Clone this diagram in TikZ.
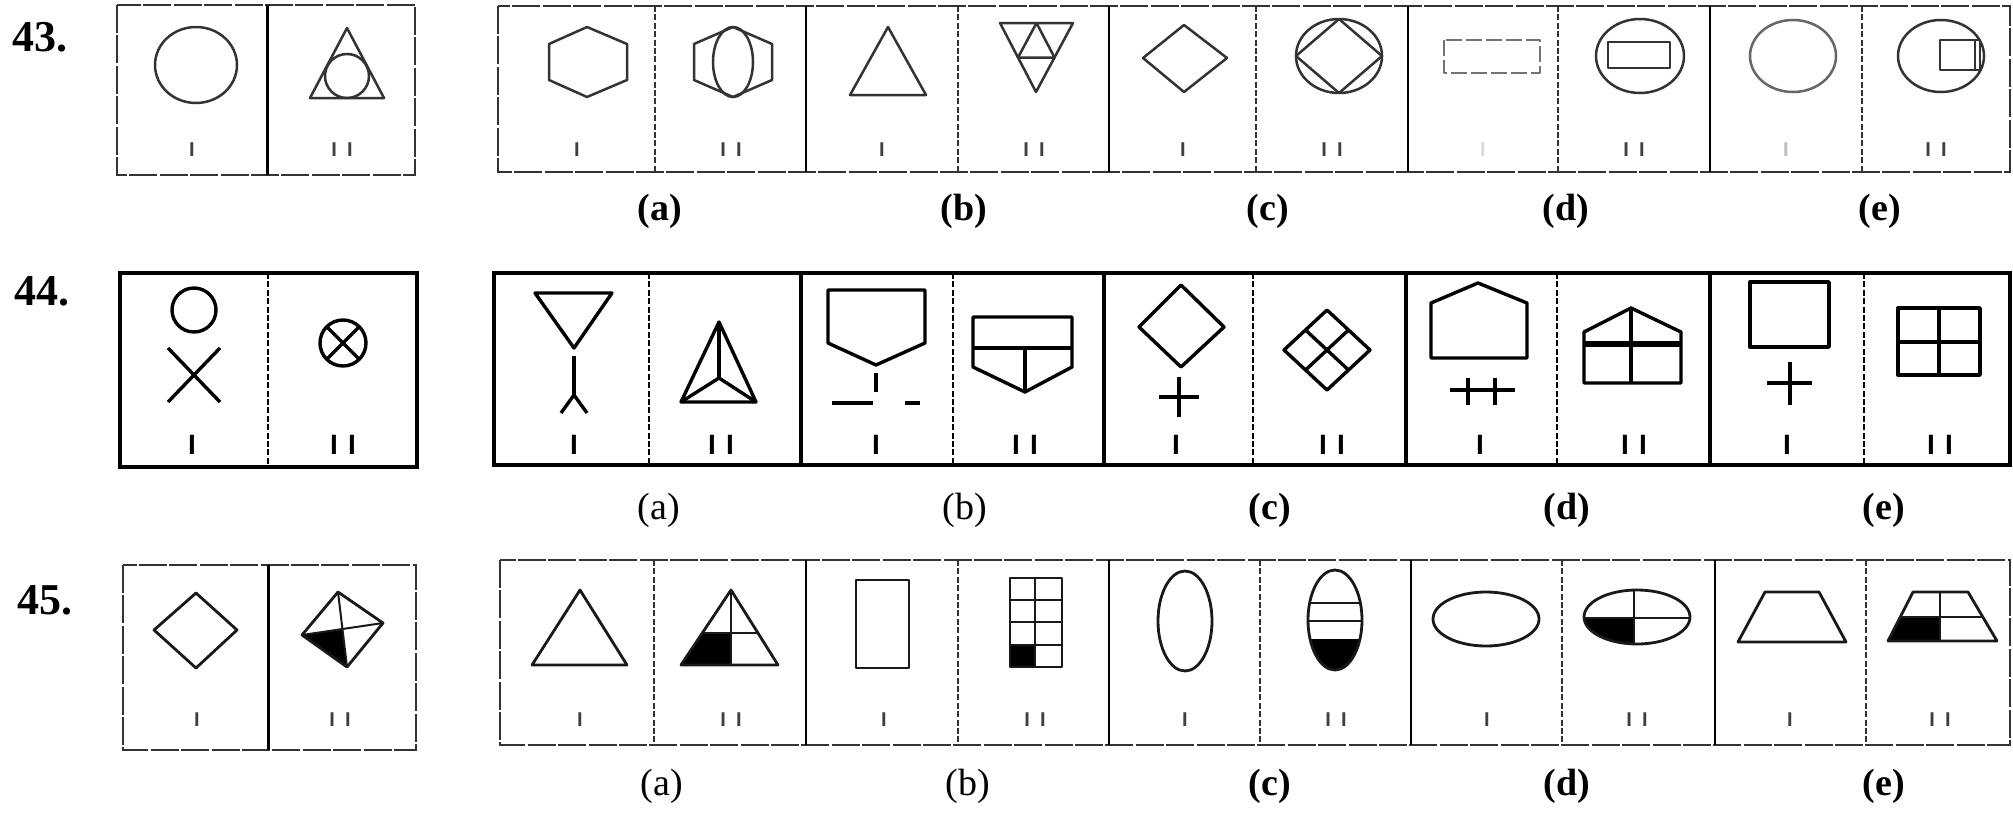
\documentclass[tikz,border=0pt]{standalone}
\usepackage{fontspec}
\setmainfont{Liberation Serif}
\newfontfamily\lblsans{Liberation Sans}
\newcommand{\romI}{I}
\newcommand{\romII}{I\kern5pt I}
\begin{document}
\begin{tikzpicture}[x=0.5pt,y=-0.5pt,
  frameA/.style={line width=1.3pt, draw=black!80, dash pattern=on 14pt off 1.2pt},
  frameB/.style={line width=1.7pt, draw=black},
  innerA/.style={line width=1.1pt, draw=black!80, dash pattern=on 3pt off 1.2pt},
  innerB/.style={line width=1.2pt, draw=black, dash pattern=on 3pt off 1.2pt},
  shpA/.style={line width=1.25pt, draw=black!80, line join=round},
  shpB/.style={line width=1.7pt, draw=black, line join=round},
  shpC/.style={line width=1.4pt, draw=black!90, line join=round},
  numlbl/.style={font=\fontsize{22}{26}\selectfont\bfseries, inner sep=0},
  optlbl/.style={font=\fontsize{19}{22}\selectfont, inner sep=0},
  optlblb/.style={font=\fontsize{19}{22}\selectfont\bfseries, inner sep=0},
  romsmall/.style={font=\lblsans\bfseries\fontsize{10}{11}\selectfont, text=black!75, inner sep=0},
  rombig/.style={font=\lblsans\bfseries\fontsize{14}{16}\selectfont, inner sep=0}
]
\useasboundingbox (0,0) rectangle (2013,814);
\fill[white] (0,0) rectangle (2013,814);

%================ Row 43 ================
\node[numlbl] (q43) at (40,37) {43.};
\draw[frameA] (117,5) rectangle (415,175);
\draw[frameB, line width=1.5pt] (267,5) -- (267,175);
\draw[frameA] (498,6) rectangle (2010,172);
\foreach \x in {655,958,1256,1558,1862} \draw[innerA] (\x,6) -- (\x,172);
\foreach \x in {806,1109,1408,1710} \draw[frameB, line width=1.4pt] (\x,6) -- (\x,172);
% question figures
\draw[shpA] (196,65) ellipse [x radius=41, y radius=38];
\draw[shpA] (347,28) -- (384,98) -- (310,98) -- cycle;
\draw[shpA] (347,76) circle (22);
% (a)
\draw[shpA] (587,27) -- (627,44) -- (627,80) -- (587,97) -- (549,80) -- (549,44) -- cycle;
\draw[shpA] (733,27) -- (772,44) -- (772,80) -- (733,97) -- (694,80) -- (694,44) -- cycle;
\draw[shpA] (733,62) ellipse [x radius=20, y radius=35];
% (b)
\draw[shpA] (888,27) -- (926,95) -- (850,95) -- cycle;
\draw[shpA] (1000,23) -- (1073,23) -- (1036,92) -- cycle;
\draw[shpA] (1036.5,23) -- (1018,57.5) -- (1054.5,57.5) -- cycle;
% (c)
\draw[shpA] (1184,25) -- (1227,58) -- (1184,92) -- (1143,58) -- cycle;
\draw[shpA] (1339,56) ellipse [x radius=43, y radius=37];
\draw[shpA] (1339,19) -- (1382,56) -- (1339,93) -- (1296,56) -- cycle;
% (d)
\draw[shpA, draw=black!55, dash pattern=on 8pt off 2pt] (1444,40) rectangle (1540,73);
\draw[shpA] (1640,56) ellipse [x radius=44, y radius=37];
\draw[shpA] (1608,42) rectangle (1670,68);
% (e)
\draw[shpA, draw=black!60] (1793,56) ellipse [x radius=43, y radius=36];
\draw[shpA] (1941,56) ellipse [x radius=43, y radius=36];
\draw[shpA] (1940,40) rectangle (1980,70);
\draw[shpA] (1975,40) -- (1975,70);
% labels
\foreach \x/\t [count=\i] in {192/\romI, 342/\romII, 577/\romI, 731/\romII, 882/\romI, 1034/\romII, 1183/\romI, 1332/\romII, 1634/\romII, 1936/\romII}
  \node[romsmall] (r43-\i) at (\x,150) {\t};
\node[romsmall, text=black!15] (r43-d1) at (1483,150) {\romI};
\node[romsmall, text=black!25] (r43-e1) at (1786,150) {\romI};
\node[optlblb] (o43a) at (660,211) {(a)};
\node[optlblb] (o43b) at (964,211) {(b)};
\node[optlblb] (o43c) at (1268,211) {(c)};
\node[optlblb] (o43d) at (1566,211) {(d)};
\node[optlblb] (o43e) at (1880,211) {(e)};

%================ Row 44 ================
\node[numlbl] (q44) at (42,291) {44.};
\draw[frameB] (120,273) rectangle (417,467);
\draw[innerB] (268,273) -- (268,467);
\draw[frameB] (494,273) rectangle (2010,465);
\foreach \x in {649,953,1253,1557,1864} \draw[innerB] (\x,273) -- (\x,465);
\foreach \x in {801,1104,1406,1710} \draw[frameB] (\x,273) -- (\x,465);
% question figures
\draw[shpB] (194,310) circle (22);
\draw[shpB] (168,348) -- (220,402);
\draw[shpB] (168,402) -- (220,348);
\draw[shpB] (343,343) circle (23);
\draw[shpB] (327,327) -- (359,359);
\draw[shpB] (327,359) -- (359,327);
% (a)
\draw[shpB] (535,293) -- (612,293) -- (574,348) -- cycle;
\draw[shpB] (574,356) -- (574,395);
\draw[shpB] (561,413) -- (574,395) -- (587,413);
\draw[shpB] (719,322) -- (756,402) -- (681,402) -- cycle;
\draw[shpB] (719,378) -- (719,322);
\draw[shpB] (719,378) -- (681,402);
\draw[shpB] (719,378) -- (756,402);
\fill (719,326) circle (3);
% (b)
\draw[shpB] (828,290) -- (925,290) -- (925,343) -- (876,365) -- (828,343) -- cycle;
\draw[shpB] (876,373) -- (876,392);
\draw[shpB] (832,403) -- (873,403);
\draw[shpB] (905,403) -- (920,403);
\draw[shpB] (973,317) -- (1072,317) -- (1072,367) -- (1025,392) -- (973,367) -- cycle;
\draw[shpB] (973,348) -- (1072,348);
\draw[shpB] (1025,348) -- (1025,392);
% (c)
\draw[shpB] (1181,285) -- (1224,327) -- (1181,367) -- (1139,327) -- cycle;
\draw[shpB] (1179,377) -- (1179,417);
\draw[shpB] (1159,397) -- (1199,397);
\draw[shpB] (1327,310) -- (1370,350) -- (1327,390) -- (1284,350) -- cycle;
\draw[shpB] (1305.5,330) -- (1348.5,370);
\draw[shpB] (1348.5,330) -- (1305.5,370);
% (d)
\draw[shpB] (1478,283) -- (1527,303) -- (1527,358) -- (1431,358) -- (1431,303) -- cycle;
\draw[shpB] (1468,378) -- (1468,405);
\draw[shpB] (1495,378) -- (1495,405);
\draw[shpB] (1450,390) -- (1515,390);
\draw[shpB] (1631,308) -- (1681,332) -- (1681,383) -- (1584,383) -- (1584,332) -- cycle;
\draw[shpB, line width=2.6pt] (1584,344) -- (1681,344);
\draw[shpB] (1631,308) -- (1631,383);
% (e)
\draw[shpB] (1750,282) rectangle (1829,347);
\draw[shpB] (1790,362) -- (1790,405);
\draw[shpB] (1767,383) -- (1812,383);
\draw[shpB] (1898,308) rectangle (1980,375);
\draw[shpB] (1939,308) -- (1939,375);
\draw[shpB] (1898,342) -- (1980,342);
% labels
\foreach \x/\t [count=\i] in {192/\romI, 343/\romII, 574/\romI, 721/\romII, 876/\romI, 1025/\romII, 1176/\romI, 1332/\romII, 1480/\romI, 1634/\romII, 1787/\romI, 1940/\romII}
  \node[rombig] (r44-\i) at (\x,445) {\t};
\node[optlbl] (o44a) at (659,510) {(a)};
\node[optlbl] (o44b) at (965,510) {(b)};
\node[optlblb] (o44c) at (1270,510) {(c)};
\node[optlblb] (o44d) at (1567,510) {(d)};
\node[optlblb] (o44e) at (1884,510) {(e)};

%================ Row 45 ================
\node[numlbl] (q45) at (45,600) {45.};
\draw[frameA] (123,565) rectangle (416,750);
\draw[frameB, line width=1.5pt] (268,565) -- (268,750);
\draw[frameA] (500,560) rectangle (2010,745);
\foreach \x in {654,958,1260,1562,1866} \draw[innerA] (\x,560) -- (\x,745);
\foreach \x in {806,1109,1411,1715} \draw[frameB, line width=1.4pt] (\x,560) -- (\x,745);
% question figures
\draw[shpC] (196,593) -- (237,630) -- (196,668) -- (154,630) -- cycle;
\fill (302,635) -- (342.4,629) -- (347,667) -- cycle;
\draw[shpC] (338,592) -- (383,623) -- (347,667) -- (302,635) -- cycle;
\draw[shpC, line width=1pt] (338,592) -- (347,667);
\draw[shpC, line width=1pt] (302,635) -- (383,623);
% (a)
\draw[shpC] (580,590) -- (627,665) -- (532,665) -- cycle;
\fill (702,633) -- (731,633) -- (731,665) -- (681,665) -- cycle;
\draw[shpC] (731,590) -- (778,665) -- (681,665) -- cycle;
\draw[shpC, line width=1pt] (731,590) -- (731,665);
\draw[shpC, line width=1pt] (702,633) -- (758,633);
% (b)
\draw[shpC] (856,580) rectangle (909,668);
\fill (1010,645) rectangle (1035,667);
\draw[shpC] (1010,578) rectangle (1062,667);
\draw[shpC] (1035,578) -- (1035,667);
\foreach \y in {600,622,645} \draw[shpC] (1010,\y) -- (1062,\y);
% (c)
\draw[shpC] (1185,621) ellipse [x radius=27, y radius=50];
\begin{scope}
  \clip (1335,620) ellipse [x radius=27, y radius=50];
  \fill (1300,639) rectangle (1370,680);
  \draw[shpC] (1300,603) -- (1370,603);
  \draw[shpC] (1300,621) -- (1370,621);
\end{scope}
\draw[shpC] (1335,620) ellipse [x radius=27, y radius=50];
% (d)
\draw[shpC] (1486,619) ellipse [x radius=53, y radius=27];
\begin{scope}
  \clip (1637,617) ellipse [x radius=53, y radius=27];
  \fill (1580,618) rectangle (1634,650);
  \draw[shpC, line width=1pt] (1634,585) -- (1634,650);
  \draw[shpC, line width=1pt] (1580,618) -- (1695,618);
\end{scope}
\draw[shpC] (1637,617) ellipse [x radius=53, y radius=27];
% (e)
\draw[shpC] (1765,592) -- (1819,592) -- (1846,642) -- (1738,642) -- cycle;
\fill (1900.5,617) -- (1940,617) -- (1940,641) -- (1888,641) -- cycle;
\draw[shpC] (1913,592) -- (1968,592) -- (1997,641) -- (1888,641) -- cycle;
\draw[shpC, line width=1pt] (1940,592) -- (1940,641);
\draw[shpC, line width=1pt] (1900.5,617) -- (1982.8,617);
% labels
\foreach \x/\t [count=\i] in {197/\romI, 340/\romII, 580/\romI, 731/\romII, 884/\romI, 1035/\romII, 1185/\romI, 1336/\romII, 1487/\romI, 1637/\romII, 1790/\romI, 1940/\romII}
  \node[romsmall] (r45-\i) at (\x,720) {\t};
\node[optlbl] (o45a) at (662,786) {(a)};
\node[optlbl] (o45b) at (968,786) {(b)};
\node[optlblb] (o45c) at (1270,786) {(c)};
\node[optlblb] (o45d) at (1567,786) {(d)};
\node[optlblb] (o45e) at (1884,786) {(e)};
\end{tikzpicture}
\end{document}
